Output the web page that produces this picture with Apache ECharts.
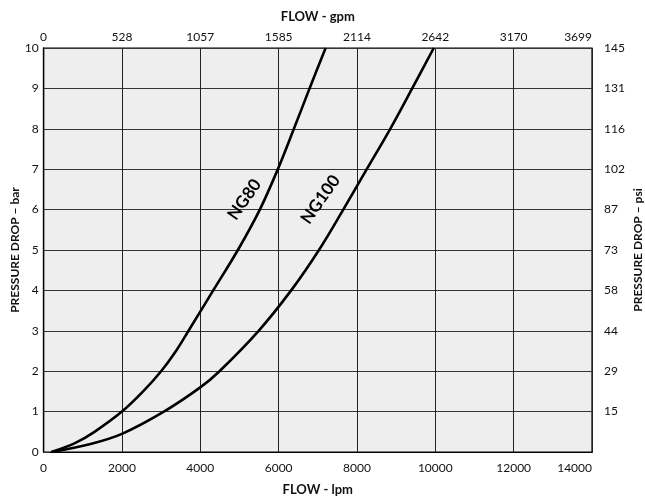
<!DOCTYPE html>
<html>
<head>
<meta charset="utf-8">
<script src="https://cdn.jsdelivr.net/npm/echarts@6/dist/echarts.min.js"></script>
<style>
  html, body { margin: 0; padding: 0; background: #ffffff; }
  #chart { width: 645px; height: 500px; }
</style>
</head>
<body>
<div id="chart"></div>
<script>
// Flow (lpm) vs. pressure drop (bar) for the two filter sizes
const ng80 = [
  [200, 0], [800, 0.22], [1300, 0.5], [2000, 1], [2540, 1.5], [3000, 2],
  [3380, 2.5], [3700, 3], [4330, 4], [4960, 5], [5520, 6], [5980, 7],
  [6390, 8], [6790, 9], [7200, 10]
];
const ng100 = [
  [200, 0], [1200, 0.2], [2000, 0.45], [3070, 1], [4000, 1.6], [4490, 2],
  [5490, 3], [6320, 4], [7030, 5], [7650, 6], [8250, 7],
  [8850, 8], [9410, 9], [9960, 10]
];

// Secondary scale labels (US gallons per minute, psi)
const gpmLabels = ['0', '528', '1057', '1585', '2114', '2642', '3170', '3699'];
const psiLabels = ['', '15', '29', '44', '58', '73', '87', '102', '116', '131', '145'];

// Curve names and where they sit (lpm, bar)
const curveNames = ['NG80', 'NG100'];
const curveLabelAt = [[5130, 6.25], [7070, 6.25]];

const FONT = 'Lato, "Open Sans", sans-serif';
const lblStyle = { color: '#111', fontFamily: FONT, fontSize: 12 };
const nameStyle = { color: '#111', fontFamily: FONT, fontSize: 12, fontWeight: 'bold' };

const chart = echarts.init(document.getElementById('chart'), null, { renderer: 'canvas' });

chart.setOption({
  animation: false,
  backgroundColor: '#ffffff',
  grid: {
    left: 43.6, right: 53, top: 48, bottom: 48,
    outerBoundsMode: 'none', containLabel: false,
    show: true, backgroundColor: '#eeeeee', borderColor: '#000', borderWidth: 1.2
  },
  xAxis: [
    {
      type: 'value', position: 'bottom', min: 0, max: 14000, interval: 2000,
      name: 'FLOW - lpm', nameLocation: 'middle', nameGap: 31,
      nameTextStyle: Object.assign({}, nameStyle, { fontSize: 13 }),
      axisLine: { show: true, lineStyle: { color: '#000', width: 1.2 } },
      axisTick: { show: false },
      axisLabel: Object.assign({
        margin: 10, alignMaxLabel: 'right',
        formatter: (v) => String(v)
      }, lblStyle),
      splitLine: { show: true, lineStyle: { color: '#222', width: 1 } }
    },
    {
      type: 'value', position: 'top', min: 0, max: 14000, interval: 2000,
      name: 'FLOW - gpm', nameLocation: 'middle', nameGap: 25,
      nameTextStyle: Object.assign({}, nameStyle, { fontSize: 13 }),
      axisLine: { show: true, lineStyle: { color: '#000', width: 1.2 } },
      axisTick: { show: false },
      axisLabel: Object.assign({
        margin: 5, alignMaxLabel: 'right',
        formatter: (v) => gpmLabels[Math.round(v / 2000)]
      }, lblStyle),
      splitLine: { show: false }
    }
  ],
  yAxis: [
    {
      type: 'value', position: 'left', min: 0, max: 10, interval: 1,
      name: 'PRESSURE DROP – bar', nameLocation: 'middle', nameGap: 22,
      nameMoveOverlap: false,
      nameTextStyle: nameStyle,
      axisLine: { show: true, lineStyle: { color: '#000', width: 1.2 } },
      axisTick: { show: false },
      axisLabel: Object.assign({ margin: 5 }, lblStyle),
      splitLine: { show: true, lineStyle: { color: '#333', width: 1 } }
    },
    {
      type: 'value', position: 'right', min: 0, max: 10, interval: 1,
      name: 'PRESSURE DROP – psi', nameLocation: 'middle', nameGap: 40,
      nameMoveOverlap: false,
      nameRotate: 90,
      nameTextStyle: nameStyle,
      axisLine: { show: true, lineStyle: { color: '#000', width: 1.2 } },
      axisTick: { show: true, inside: false, length: 6, lineStyle: { color: '#333', width: 1 } },
      axisLabel: Object.assign({
        margin: 12,
        formatter: (v) => psiLabels[Math.round(v)]
      }, lblStyle),
      splitLine: { show: false }
    }
  ],
  series: [
    {
      name: curveNames[0], type: 'line', xAxisIndex: 0, yAxisIndex: 0,
      data: ng80, showSymbol: false, symbol: 'none',
      smooth: 0.35,
      lineStyle: { color: '#000', width: 2.6 }
    },
    {
      name: curveNames[1], type: 'line', xAxisIndex: 0, yAxisIndex: 0,
      data: ng100, showSymbol: false, symbol: 'none',
      smooth: 0.35,
      lineStyle: { color: '#000', width: 2.6 }
    }
  ]
});

// Rotated curve names placed through the axis scales
const tags = curveNames.map((txt, i) => {
  const p = chart.convertToPixel({ xAxisIndex: 0, yAxisIndex: 0 }, curveLabelAt[i]);
  return {
    type: 'text', x: p[0], y: p[1], rotation: 55 * Math.PI / 180,
    style: {
      text: txt, fill: '#000', font: 'bold 17px ' + FONT,
      textAlign: 'center', textVerticalAlign: 'middle'
    },
    z: 100
  };
});
chart.setOption({ graphic: tags });
</script>
</body>
</html>
